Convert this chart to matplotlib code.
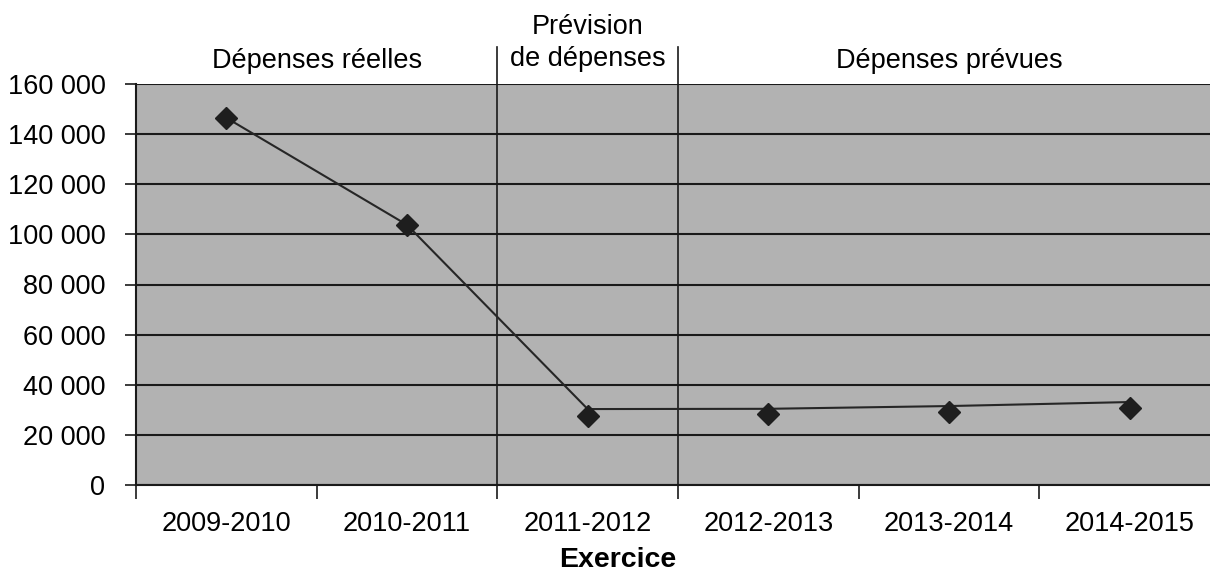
import numpy as np
import matplotlib
matplotlib.use("Agg")
import matplotlib.pyplot as plt
from matplotlib.ticker import FixedLocator, FuncFormatter

plt.rcParams["font.family"] = ["Liberation Sans", "DejaVu Sans"]

# data
exercices = ["2009-2010", "2010-2011", "2011-2012", "2012-2013", "2013-2014", "2014-2015"]
depenses = [146500, 103800, 27500, 28300, 29100, 30700]        # diamond markers
trace = [146500, 103800, 30300, 30400, 31500, 33100]           # connecting line as drawn
groupes = ["Dépenses réelles", "Prévision\nde dépenses", "Dépenses prévues"]
limites = [1.5, 2.5]

fs = 19.5
x = np.arange(len(exercices))

fig = plt.figure(figsize=(12.1, 5.72), dpi=100)
ax = fig.add_axes([136 / 1210, 87 / 572, 1084 / 1210, 401 / 572])
ax.set_facecolor("#b2b2b2")

ax.set_xlim(-0.5, len(exercices) - 0.5)
ax.set_ylim(0, 160000)

ax.yaxis.set_major_locator(FixedLocator(np.arange(0, 160001, 20000)))
ax.yaxis.set_major_formatter(FuncFormatter(lambda v, p: f"{int(v):,}".replace(",", " ")))
ax.grid(axis="y", color="#1a1a1a", lw=1.5)
ax.set_axisbelow(True)

ax.plot(x, trace, color="#262626", lw=1.5, zorder=3)
ax.plot(x, depenses, ls="None", marker="D", ms=11, color="#1e1e1e", zorder=4)

# separators between groups, extending above the plot
for b in limites:
    ax.plot([b, b], [0, 1.093], color="#1a1a1a", lw=1.2,
            transform=ax.get_xaxis_transform(), clip_on=False, zorder=2)

tr = ax.get_xaxis_transform()
ax.text(0.5, 1.057, groupes[0], transform=tr, ha="center", va="center", fontsize=fs)
ax.text(2.0, 1.103, groupes[1], transform=tr, ha="center", va="center",
        fontsize=fs, linespacing=1.3)
ax.text(4.0, 1.057, groupes[2], transform=tr, ha="center", va="center", fontsize=fs)

for s in ["top", "right"]:
    ax.spines[s].set_visible(False)
for s in ["left", "bottom"]:
    ax.spines[s].set_color("#1a1a1a")
    ax.spines[s].set_linewidth(1.5)

ax.set_xticks(x)
ax.set_xticklabels(exercices, fontsize=fs)
ax.set_xticks(np.arange(-0.5, len(exercices)), minor=True)
ax.tick_params(axis="x", which="major", length=0, pad=19)
ax.tick_params(axis="x", which="minor", length=10, width=1.2, color="#1a1a1a")
ax.tick_params(axis="y", length=8, width=1.2, color="#1a1a1a", labelsize=fs, pad=14)

fig.text(618 / 1210, 1 - 560 / 572, "Exercice", ha="center", va="center",
         fontsize=fs + 1, fontweight="bold")

fig.savefig("out.png", dpi=100)
